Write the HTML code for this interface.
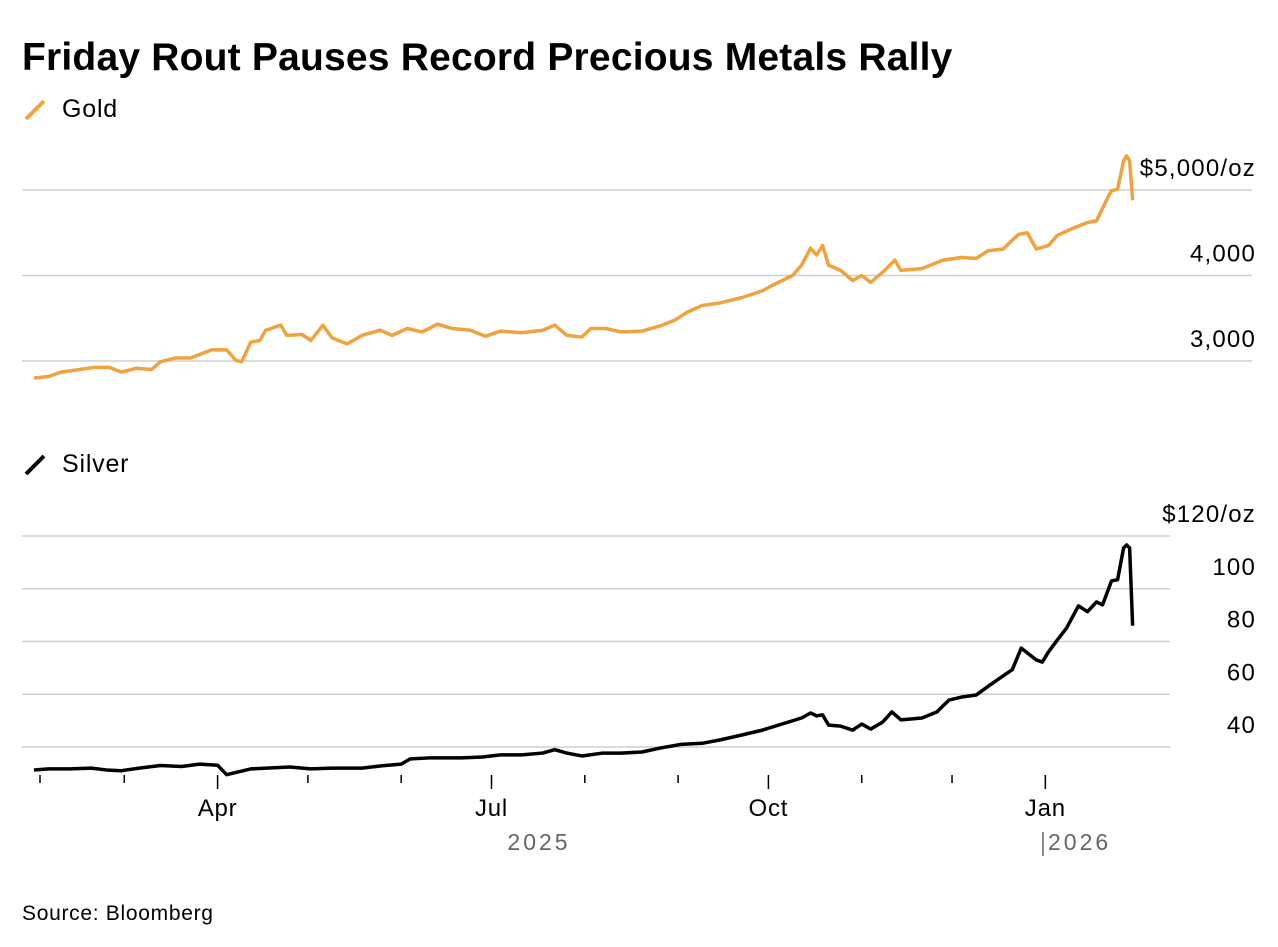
<!DOCTYPE html>
<html><head><meta charset="utf-8"><style>
body{margin:0;background:#fff;width:1278px;height:942px;overflow:hidden;font-family:"Liberation Sans",sans-serif}
svg text{font-family:"Liberation Sans",sans-serif}
</style></head><body>
<svg id="chart" width="1278" height="942">
<text x="22" y="70" font-size="39" font-weight="bold" fill="#000" letter-spacing="0.2">Friday Rout Pauses Record Precious Metals Rally</text>
<g><line x1="26" y1="119" x2="44" y2="101" stroke="#f0a23f" stroke-width="4"/><text x="62" y="117" font-size="25" letter-spacing="0.8" fill="#000">Gold</text></g>
<g><line x1="26" y1="474" x2="44" y2="456" stroke="#000" stroke-width="4"/><text x="62" y="472" font-size="25" letter-spacing="0.8" fill="#000">Silver</text></g>
<text x="22" y="920" font-size="21" letter-spacing="0.7" fill="#000">Source: Bloomberg</text>
</svg>
<script>
const goldDay=[-2,3,7,13,18,23,27,32,37,40,45,50,57,62,65,67,70,73,75,80,82,87,90,94,97,102,107,113,117,122,127,132,137,143,148,153,160,167,171,175,180,183,188,193,200,206,211,215,220,226,233,240,243,250,253,256,258,260,262,266,270,273,276,280,284,286,293,300,306,311,315,320,325,328,331,335,338,343,348,351,355,356,358,360,361,362,363];
const goldPrice=[2800,2820,2870,2900,2925,2925,2870,2915,2900,2990,3035,3035,3130,3130,3010,2990,3220,3240,3360,3420,3300,3310,3240,3420,3270,3200,3300,3360,3300,3380,3340,3430,3380,3360,3290,3350,3330,3360,3420,3300,3280,3380,3380,3340,3350,3410,3480,3570,3650,3680,3740,3820,3880,4000,4120,4320,4240,4350,4120,4060,3940,4000,3920,4040,4180,4060,4080,4180,4210,4200,4290,4310,4480,4500,4310,4350,4470,4550,4620,4640,4930,4990,5010,5340,5400,5340,4880];
const silverDay=[-2,3,10,17,22,27,33,40,47,53,59,62,66,70,83,90,97,107,113,120,123,130,140,147,153,160,167,171,175,180,187,193,200,206,213,220,226,233,240,253,256,258,260,262,266,270,273,276,280,283,286,293,298,302,306,311,315,320,323,326,331,333,335,338,341,345,348,351,353,356,358,360,361,362,363];
const silverPrice=[31.3,31.7,31.7,32,31.3,31,32,33,32.6,33.5,33.1,29.5,30.6,31.7,32.4,31.7,32,32,32.8,33.5,35.5,35.9,35.9,36.2,37,37,37.7,39,37.7,36.6,37.7,37.7,38.1,39.6,41,41.4,42.7,44.5,46.4,51,52.9,51.8,52.2,48.3,47.9,46.4,48.7,46.8,49.5,53.3,50.3,51,53.3,57.8,58.9,59.7,63,67,69.3,77.5,73,72.2,76,80.6,85,93.5,91.3,95,93.9,103,103.4,115.5,116.6,115.5,86];
const goldTicks=[3000,4000,5000], goldTickLabels=["3,000","4,000","$5,000/oz"];
const silverTicks=[40,60,80,100,120], silverTickLabels=["40","60","80","100","$120/oz"];
const monthDay=[0,28,59,89,120,150,181,212,242,273,303,334];
const monthLabels=["","","Apr","","","Jul","","","Oct","","","Jan"];

const NS="http://www.w3.org/2000/svg";
const svg=document.getElementById('chart');
const x=d=>40+d*3.01;
const yG=v=>361-(v-3000)*0.0855;
const yS=v=>747-(v-40)*2.6375;
function el(tag,attrs,parent){const e=document.createElementNS(NS,tag);for(const k in attrs)e.setAttribute(k,attrs[k]);(parent||svg).appendChild(e);return e;}

goldTicks.forEach((t,i)=>{
  const g=el('line',{x1:22,x2:1252,y1:yG(t),y2:yG(t),stroke:'#cfcfcf','stroke-width':1.5});
  
  
  const tx=el('text',{x:1256,y:yG(t)-14,'font-size':24,'letter-spacing':'1.2','text-anchor':'end',fill:'#000'});
  tx.textContent=goldTickLabels[i];
  
  
});
silverTicks.forEach((t,i)=>{
  const g=el('line',{x1:22,x2:1170,y1:yS(t),y2:yS(t),stroke:'#cfcfcf','stroke-width':1.5});
  
  
  const tx=el('text',{x:1256,y:yS(t)-14,'font-size':24,'letter-spacing':'1.2','text-anchor':'end',fill:'#000'});
  tx.textContent=silverTickLabels[i];
  
  
});
const gl=el('polyline',{points:goldDay.map((d,i)=>x(d)+','+yG(goldPrice[i])).join(' '),fill:'none',stroke:'#f0a23f','stroke-width':3.5,'stroke-linejoin':'round'});


const sl=el('polyline',{points:silverDay.map((d,i)=>x(d)+','+yS(silverPrice[i])).join(' '),fill:'none',stroke:'#000','stroke-width':3.5,'stroke-linejoin':'round'});


monthDay.forEach((d,i)=>{
  const major=monthLabels[i]!=="";
  const t=el('line',{x1:x(d),x2:x(d),y1:775,y2:major?789:783,stroke:'#000','stroke-width':1.5});
  
  
  if(major){const tx=el('text',{x:x(d),y:816,'font-size':24,'letter-spacing':'0.8','text-anchor':'middle',fill:'#000'});tx.textContent=monthLabels[i];
  
  }
});
const y1=el('text',{x:539,y:850,'font-size':23,'text-anchor':'middle',fill:'#666','letter-spacing':'3'});y1.textContent='2025';


el('line',{x1:1043,x2:1043,y1:832,y2:856,stroke:'#666','stroke-width':1.5});
const y2=el('text',{x:1048,y:850,'font-size':23,fill:'#666','letter-spacing':'3'});y2.textContent='2026';


</script>
</body></html>
